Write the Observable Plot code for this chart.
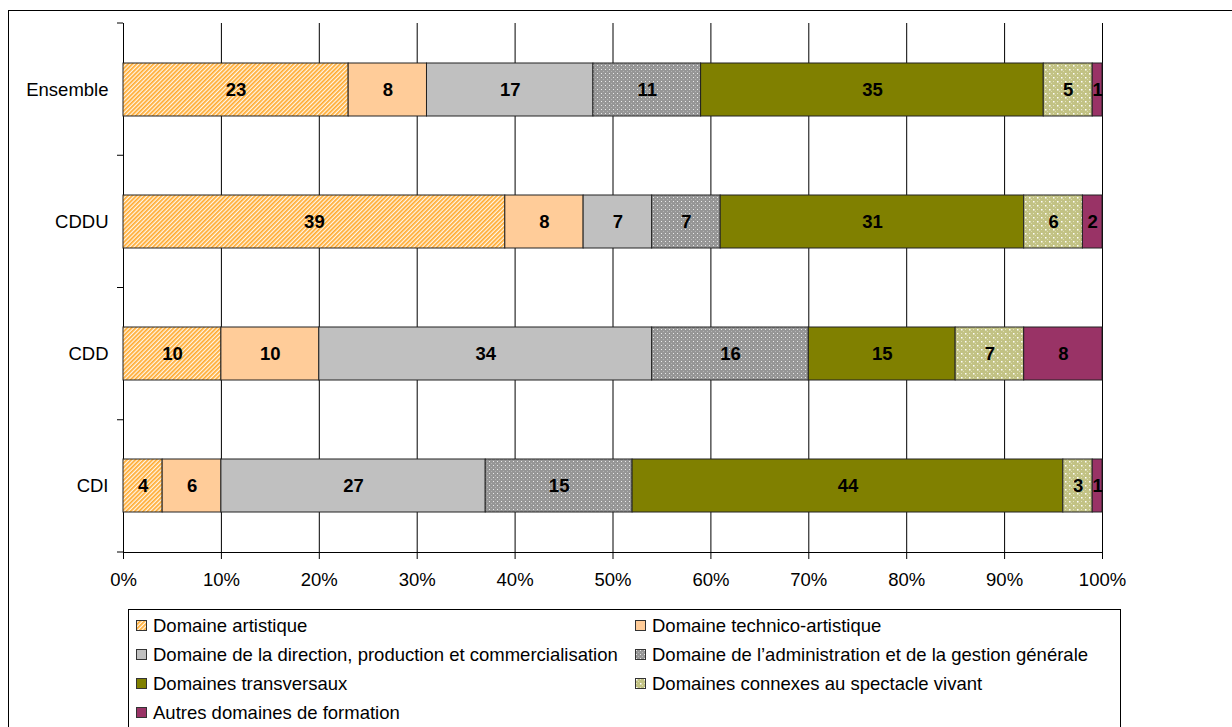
<!DOCTYPE html>
<html><head><meta charset="utf-8">
<script src="https://cdn.jsdelivr.net/npm/d3@7"></script>
<script src="https://cdn.jsdelivr.net/npm/@observablehq/plot@0.6"></script>
<style>
body{margin:0;background:#fff;font-family:"Liberation Sans",Arial,sans-serif;}
#wrap{position:relative;width:1232px;height:727px;overflow:hidden;}
#outer{position:absolute;left:8px;top:10px;width:1300px;height:800px;border:1px solid #000;box-sizing:border-box;}
#chart{position:absolute;left:0;top:0;}
#legend{position:absolute;left:128px;top:609px;width:993px;height:200px;border:1px solid #000;box-sizing:border-box;background:#fff;
 display:grid;grid-template-columns:499px 490px;grid-auto-rows:29px;padding:1px 0 0 7px;font-size:18.5px;color:#000;}
#legend .it{display:flex;align-items:center;white-space:nowrap;}
#legend svg{margin-right:6px;flex:none;}
</style></head>
<body><div id="wrap"><div id="outer"></div><div id="chart"></div><div id="legend"></div></div>
<script>
const categories = ["Ensemble", "CDDU", "CDD", "CDI"];
const series = [
  "Domaine artistique",
  "Domaine technico-artistique",
  "Domaine de la direction, production et commercialisation",
  "Domaine de l\u2019administration et de la gestion générale",
  "Domaines transversaux",
  "Domaines connexes au spectacle vivant",
  "Autres domaines de formation"
];
const ensemble = [23, 8, 17, 11, 35, 5, 1];
const cddu     = [39, 8, 7, 7, 31, 6, 2];
const cdd      = [10, 10, 34, 16, 15, 7, 8];
const cdi      = [4, 6, 27, 15, 44, 3, 1];
const xTicks = [0, 10, 20, 30, 40, 50, 60, 70, 80, 90, 100];

const fills = ["url(#hatch)", "#FFCC99", "#C0C0C0", "url(#dotsGray)", "#808000", "url(#dotsKhaki)", "#993366"];

const byCat = [ensemble, cddu, cdd, cdi];
const rows = [];
series.forEach((s, j) => categories.forEach((c, i) => rows.push({cat: c, series: s, value: byCat[i][j]})));

const plot = Plot.plot({
  width: 1232, height: 600,
  marginLeft: 123, marginRight: 130, marginTop: 23, marginBottom: 48,
  style: {fontFamily: "'Liberation Sans', Arial, sans-serif", fontSize: "18.5px", background: "transparent", color: "#000", overflow: "visible"},
  x: {domain: [0, 100], ticks: xTicks, tickFormat: d => d + "%", tickSize: 7, tickPadding: 13, line: true, label: null},
  y: {domain: categories, paddingInner: 0.6, paddingOuter: 0.3, tickSize: 0, tickPadding: 15, label: null},
  color: {domain: series, range: fills},
  marks: [
    Plot.ruleX(xTicks, {stroke: "#000", strokeWidth: 1}),
    Plot.barX(rows, Plot.stackX({x: "value", y: "cat", fill: "series", z: "series", stroke: "#222", strokeWidth: 1})),
    Plot.text(rows, Plot.stackX({x: "value", y: "cat", z: "series", text: "value", fill: "#000", fontWeight: "bold", fontSize: 18.5}))
  ]
});

const svg = d3.select(plot);
const defs = svg.insert("defs", ":first-child");
const h = defs.append("pattern").attr("id", "hatch").attr("width", 3).attr("height", 3)
  .attr("patternUnits", "userSpaceOnUse").attr("patternTransform", "rotate(45)");
h.append("rect").attr("width", 3).attr("height", 3).attr("fill", "#FFF6E8");
h.append("rect").attr("x", 0).attr("width", 1.7).attr("height", 3).attr("fill", "#FFAA2E");
const g = defs.append("pattern").attr("id", "dotsGray").attr("width", 4).attr("height", 4).attr("patternUnits", "userSpaceOnUse");
g.append("rect").attr("width", 4).attr("height", 4).attr("fill", "#969696");
g.append("rect").attr("x", 1).attr("y", 1).attr("width", 1).attr("height", 1).attr("fill", "#EAEAEA");
g.append("rect").attr("x", 3).attr("y", 3).attr("width", 1).attr("height", 1).attr("fill", "#B4B4B4");
const k = defs.append("pattern").attr("id", "dotsKhaki").attr("width", 8).attr("height", 8).attr("patternUnits", "userSpaceOnUse");
k.append("rect").attr("width", 8).attr("height", 8).attr("fill", "#C2C284");
k.append("rect").attr("x", 1).attr("y", 1).attr("width", 1.5).attr("height", 1.5).attr("fill", "#FFFFFF");
k.append("rect").attr("x", 5).attr("y", 5).attr("width", 1.5).attr("height", 1.5).attr("fill", "#FFFFFF");
k.append("rect").attr("x", 5).attr("y", 1).attr("width", 1).attr("height", 1).attr("fill", "#E2E2BC");
k.append("rect").attr("x", 1).attr("y", 5).attr("width", 1).attr("height", 1).attr("fill", "#E2E2BC");
k.append("rect").attr("x", 3).attr("y", 3).attr("width", 1).attr("height", 1).attr("fill", "#DADAAE");
k.append("rect").attr("x", 7).attr("y", 7).attr("width", 1).attr("height", 1).attr("fill", "#DADAAE");

// band-boundary ticks on the category axis
const ys = plot.scale("y");
const r0 = ys.range[0], r1 = ys.range[1], n = ys.domain.length;
const tg = svg.append("g");
for (let i = 0; i <= n; i++) {
  const yy = r0 + i * (r1 - r0) / n;
  tg.append("line").attr("x1", 117).attr("x2", 123).attr("y1", yy).attr("y2", yy).attr("stroke", "#000");
}

document.getElementById("chart").appendChild(plot);

const leg = d3.select("#legend");
series.forEach((s, j) => {
  const it = leg.append("div").attr("class", "it");
  const sw = it.append("svg").attr("width", 11).attr("height", 11);
  sw.append("rect").attr("x", 0.5).attr("y", 0.5).attr("width", 10).attr("height", 10).attr("fill", fills[j]).attr("stroke", "#333");
  it.append("span").text(s);
});
</script></body></html>
